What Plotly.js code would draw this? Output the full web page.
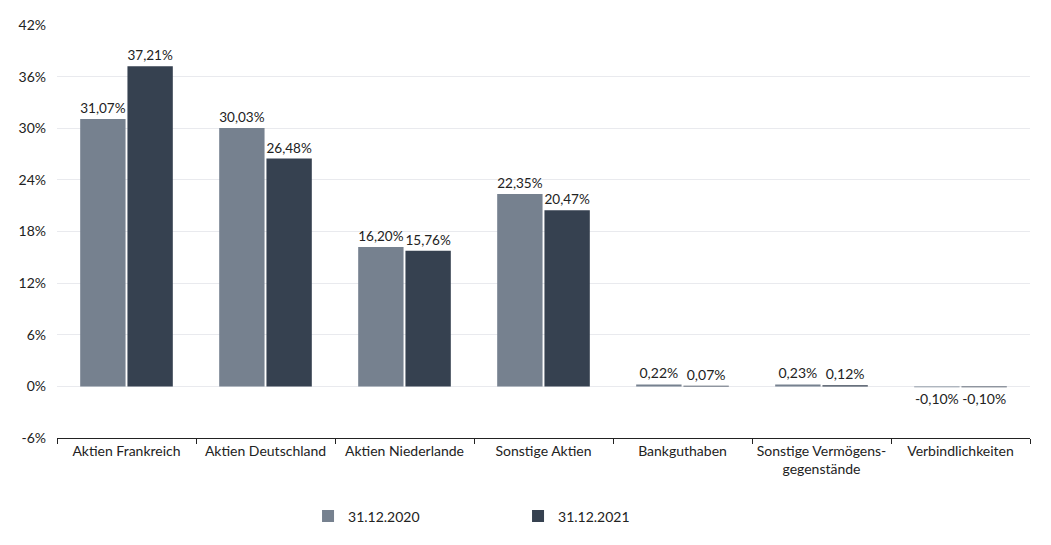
<!DOCTYPE html>
<html>
<head>
<meta charset="utf-8">
<script src="https://cdn.plot.ly/plotly-3.0.1.min.js"></script>
<style>html,body{margin:0;padding:0;background:#fff;}#chart{width:1051px;height:545px;}</style>
</head>
<body>
<div id="chart"></div>
<script>
var categories = ["Aktien Frankreich", "Aktien Deutschland", "Aktien Niederlande", "Sonstige Aktien", "Bankguthaben", "Sonstige Vermögens-<br>gegenstände", "Verbindlichkeiten"];
var values2020 = [31.07, 30.03, 16.20, 22.35, 0.22, 0.23, -0.10];
var values2021 = [37.21, 26.48, 15.76, 20.47, 0.07, 0.12, -0.10];
var seriesNames = ["31.12.2020", "31.12.2021"];
var yTicks = [-6, 0, 6, 12, 18, 24, 30, 36, 42];
var yTickText = ["-6%", "0%", "6%", "12%", "18%", "24%", "30%", "36%", "42%"];

var font = "Lato, 'Open Sans', sans-serif";
function mk(name, vals, color) {
  return {
    type: "bar", name: name, x: categories, y: vals,
    marker: {color: color, line: {width: 0}},
    texttemplate: "%{y:.2f}%", textposition: "outside", cliponaxis: false,
    textfont: {family: font, size: 14, color: "#222"},
    hoverinfo: "skip"
  };
}
var data = [mk(seriesNames[0], values2020, "#76818f"), mk(seriesNames[1], values2021, "#364150")];
var layout = {
  width: 1051, height: 545,
  margin: {l: 57, r: 21, t: 25, b: 105},
  paper_bgcolor: "#fff", plot_bgcolor: "#fff",
  separators: ",.",
  font: {family: font, size: 14, color: "#222"},
  barmode: "group", bargap: 0.32, bargroupgap: 0.04,
  showlegend: true,
  legend: {orientation: "h", x: 0.258, xanchor: "left", y: -0.19, yanchor: "middle",
    entrywidth: 165, entrywidthmode: "pixels", font: {family: font, size: 14, color: "#222"}},
  xaxis: {type: "category", showline: true, linecolor: "#222", linewidth: 1,
    ticks: "outside", tickson: "boundaries", ticklen: 5, tickcolor: "#222",
    showgrid: false, tickfont: {family: font, size: 14, color: "#222"}},
  yaxis: {range: [-6, 42], tickmode: "array", tickvals: yTicks, ticktext: yTickText, showgrid: true,
    gridcolor: "#e9eaee", zeroline: true, zerolinecolor: "#e9eaee", zerolinewidth: 1,
    showline: false, ticks: "", ticklabelstandoff: 10,
    tickfont: {family: font, size: 14, color: "#222"}}
};
Plotly.newPlot("chart", data, layout, {displayModeBar: false, staticPlot: true});
</script>
</body>
</html>
